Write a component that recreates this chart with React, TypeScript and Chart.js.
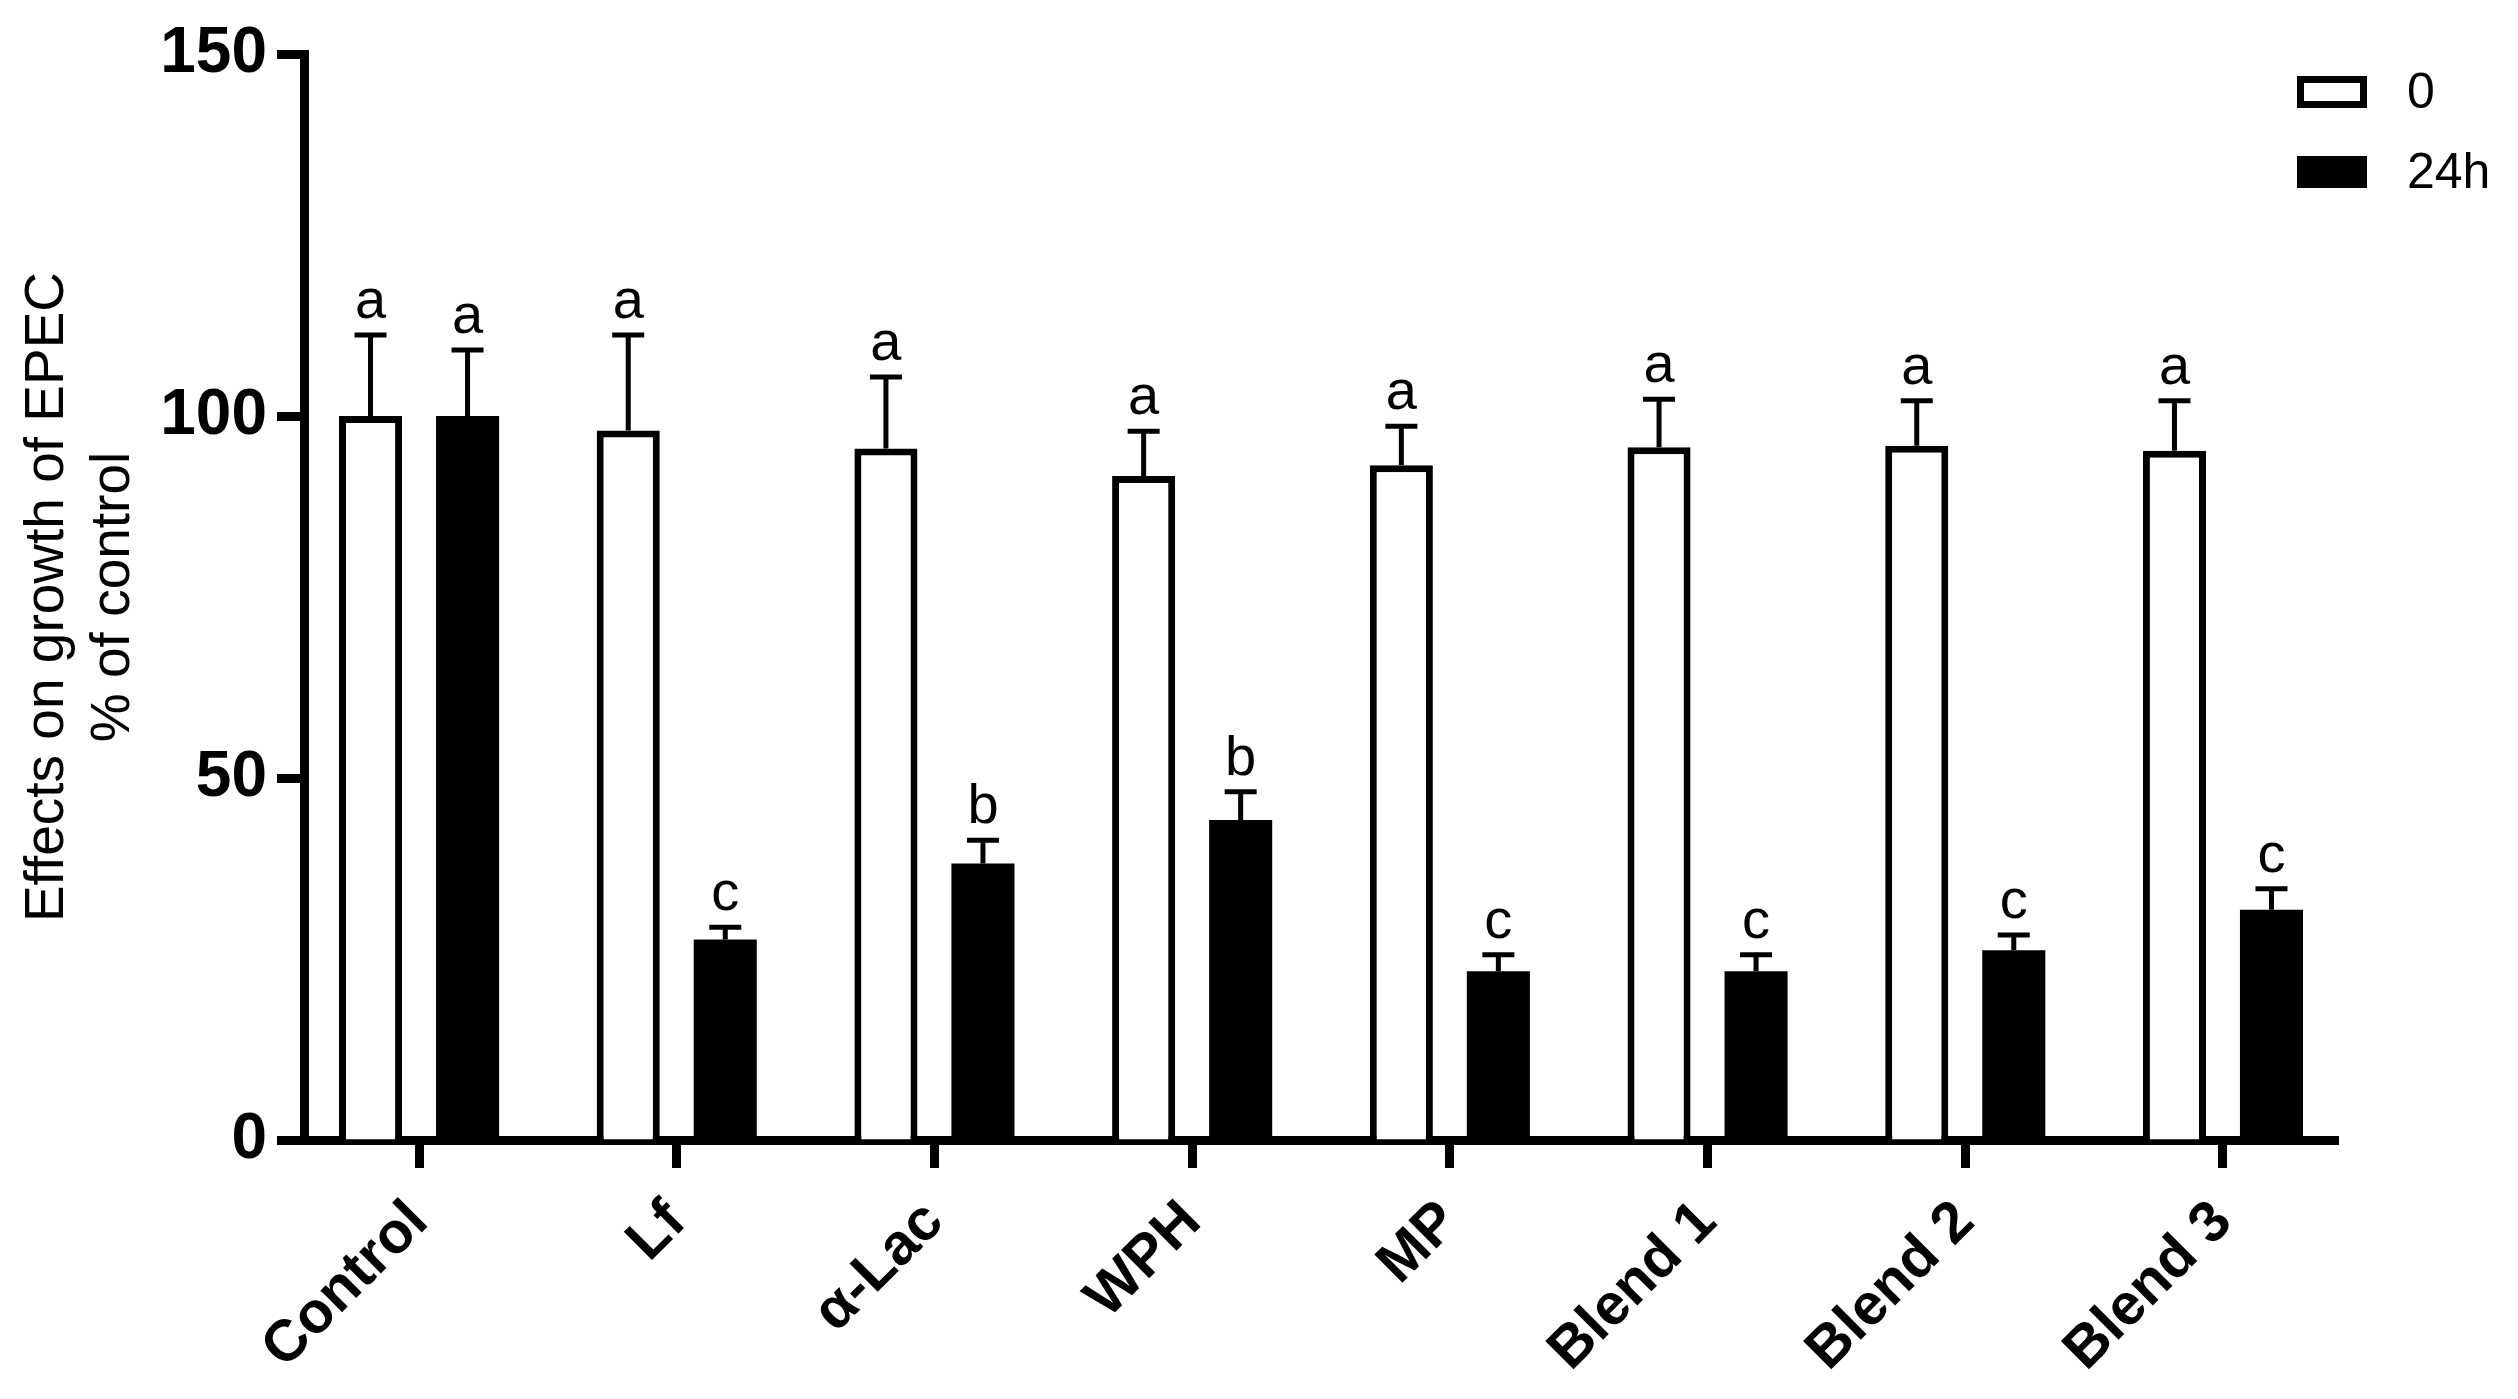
import { useEffect, useRef } from 'react'
import { Chart, registerables } from 'chart.js'

Chart.register(...registerables)

// data
const groups = ['Control', 'Lf', 'α-Lac', 'WPH', 'MP', 'Blend 1', 'Blend 2', 'Blend 3']
const seriesNames = ['0', '24h']
const values0h = [100, 98.0, 95.5, 91.7, 93.2, 95.7, 95.9, 95.2]
const values24h = [100, 27.7, 38.2, 44.2, 23.3, 23.3, 26.2, 31.8]
const sd0h = [11.2, 13.2, 9.9, 6.2, 5.4, 6.6, 6.2, 6.9]
const sd24h = [9.1, 1.7, 3.2, 3.9, 2.3, 2.3, 2.1, 2.9]
const letters0h = ['a', 'a', 'a', 'a', 'a', 'a', 'a', 'a']
const letters24h = ['a', 'c', 'b', 'b', 'c', 'c', 'c', 'c']
const yTicks = [0, 50, 100, 150]

const FONT = "'Liberation Sans', Arial, sans-serif"
const errors = [sd0h, sd24h]
const letters = [letters0h, letters24h]
// gap between the axis ends and the outer category centres (in category units)
const EDGE = 0.4464

const errorBarPlugin = {
    id: 'errorBars',
    afterDatasetsDraw(chart: any) {
        const ctx = chart.ctx
        const yScale = chart.scales.y
        ctx.save()
        chart.data.datasets.forEach((ds: any, di: number) => {
            const meta = chart.getDatasetMeta(di)
            meta.data.forEach((bar: any, i: number) => {
                const top = yScale.getPixelForValue(ds.data[i] + errors[di][i])
                ctx.strokeStyle = '#000'
                ctx.lineWidth = 5
                ctx.beginPath()
                ctx.moveTo(bar.x, bar.y)
                ctx.lineTo(bar.x, top)
                ctx.moveTo(bar.x - 16, top)
                ctx.lineTo(bar.x + 16, top)
                ctx.stroke()
                ctx.fillStyle = '#000'
                ctx.font = `56px ${FONT}`
                ctx.textAlign = 'center'
                ctx.textBaseline = 'alphabetic'
                ctx.fillText(letters[di][i], bar.x, top - 17)
            })
        })
        ctx.restore()
    }
}

const legendPlugin = {
    id: 'boxLegend',
    afterDraw(chart: any) {
        const ctx = chart.ctx
        ctx.save()
        chart.data.datasets.forEach((ds: any, di: number) => {
            const cy = 92 + di * 80
            const x = 2297, w = 70, h = 32
            ctx.fillStyle = ds.backgroundColor
            ctx.fillRect(x, cy - h / 2, w, h)
            ctx.strokeStyle = '#000'
            ctx.lineWidth = 7
            ctx.strokeRect(x + 3.5, cy - h / 2 + 3.5, w - 7, h - 7)
            ctx.fillStyle = '#000'
            ctx.font = `50px ${FONT}`
            ctx.textAlign = 'left'
            ctx.textBaseline = 'middle'
            ctx.fillText(ds.label, 2407, cy + 2)
        })
        ctx.restore()
    }
}

const App = () => {
    const canvasRef = useRef<HTMLCanvasElement>(null)

    useEffect(() => {
        if (!canvasRef.current) return
        const chart = new Chart(canvasRef.current, {
            type: 'bar',
            data: {
                labels: groups,
                datasets: [
                    {
                        label: seriesNames[0],
                        data: values0h,
                        backgroundColor: '#ffffff',
                        borderColor: '#000000',
                        borderWidth: 7,
                        borderSkipped: 'bottom'
                    },
                    {
                        label: seriesNames[1],
                        data: values24h,
                        backgroundColor: '#000000',
                        borderColor: '#000000',
                        borderWidth: 0
                    }
                ]
            },
            options: {
                animation: false,
                responsive: true,
                maintainAspectRatio: false,
                datasets: {
                    bar: { categoryPercentage: 0.753, barPercentage: 0.65 }
                },
                layout: { padding: { top: 54, right: 180, bottom: 0, left: 0 } },
                plugins: {
                    legend: { display: false },
                    tooltip: { enabled: false }
                },
                scales: {
                    x: {
                        offset: true,
                        z: 1,
                        grid: {
                            offset: false,
                            drawOnChartArea: false,
                            drawTicks: true,
                            tickLength: 28,
                            tickWidth: 9,
                            tickColor: '#000'
                        },
                        border: { display: true, width: 9, color: '#000' },
                        ticks: {
                            color: '#000',
                            font: { family: FONT, size: 58, weight: 'bold' },
                            minRotation: 45,
                            maxRotation: 45,
                            autoSkip: false,
                            padding: 20
                        },
                        afterBuildTicks: (scale: any) => {
                            scale._startValue = -EDGE
                            scale._valueRange = groups.length - 1 + 2 * EDGE
                        },
                        afterFit: (scale: any) => {
                            scale.height = 1399 - 1140
                        }
                    },
                    y: {
                        min: 0,
                        max: 150,
                        afterBuildTicks: (scale: any) => {
                            scale.ticks = yTicks.map(v => ({ value: v }))
                        },
                        grid: {
                            drawOnChartArea: false,
                            drawTicks: true,
                            tickLength: 27,
                            tickWidth: 9,
                            tickColor: '#000'
                        },
                        border: { display: true, width: 9, color: '#000' },
                        ticks: {
                            color: '#000',
                            font: { family: FONT, size: 64, weight: 'bold' },
                            padding: 10
                        },
                        title: {
                            display: true,
                            text: ['Effects on growth of EPEC', '% of control'],
                            color: '#000',
                            font: { family: FONT, size: 55, lineHeight: 1.2 },
                            padding: { top: 15, bottom: 0 }
                        },
                        afterFit: (scale: any) => {
                            scale.width = 304
                        }
                    }
                }
            },
            plugins: [errorBarPlugin, legendPlugin]
        })
        return () => {
            chart.destroy()
        }
    }, [])

    return (
        <div style={{ position: 'fixed', left: 0, top: 0, width: '100vw', height: '100vh', background: '#fff' }}>
            <canvas ref={canvasRef}></canvas>
        </div>
    )
}

export default App
